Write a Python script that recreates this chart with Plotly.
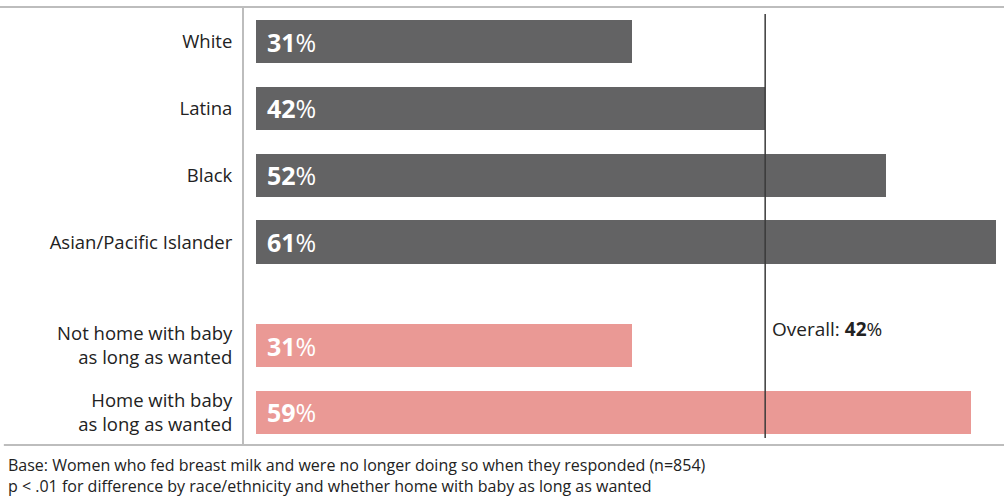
import plotly.graph_objects as go

# chart values
categories = ["White", "Latina", "Black", "Asian/Pacific Islander",
              "Not home with baby<br>as long as wanted",
              "Home with baby<br>as long as wanted"]
values = [31, 42, 52, 61, 31, 59]
groups = ["race", "race", "race", "race", "home", "home"]
overall = 42
footnotes = [
    "Base: Women who fed breast milk and were no longer doing so when they responded (n=854)",
    "p < .01 for difference by race/ethnicity and whether home with baby as long as wanted",
]

# layout helpers (slot positions; gap before second group)
positions = [0, 1, 2, 3, 4.55, 5.55]
group_colors = {"race": "#636364", "home": "#EA9995"}
FONT = "'Open Sans', 'Noto Sans', sans-serif"

fig = go.Figure()
fig.add_trace(go.Bar(
    x=values,
    y=positions,
    orientation="h",
    width=0.65,
    marker=dict(color=[group_colors[g] for g in groups], line=dict(width=0)),
    hoverinfo="skip",
))

# value labels inside bars
for v, p in zip(values, positions):
    fig.add_annotation(
        x=0, y=p, xref="x", yref="y",
        text=f"<b>{v}</b>%",
        showarrow=False, xanchor="left", yanchor="middle",
        xshift=9,
        font=dict(family=FONT, size=25, color="white"),
    )

# overall reference line
fig.add_shape(type="line", xref="x", yref="paper",
              x0=overall, x1=overall, y0=0.016, y1=0.984,
              line=dict(color="#3a3a3a", width=1.5))
fig.add_annotation(
    x=overall, y=4.3, xref="x", yref="y",
    text=f"Overall: <b>{overall}</b>%",
    showarrow=False, xanchor="left", yanchor="middle", xshift=5,
    font=dict(family=FONT, size=19, color="#222222"),
)

# frame lines
fig.add_shape(type="line", xref="paper", yref="paper",
              x0=-0.33, x1=1, y0=1, y1=1,
              line=dict(color="#bdbdbd", width=2))
fig.add_shape(type="line", xref="paper", yref="paper",
              x0=-0.316, x1=1, y0=0, y1=0,
              line=dict(color="#bdbdbd", width=2))

# footnotes
fig.add_annotation(
    x=0, y=0, xref="paper", yref="paper",
    text="<br>".join(footnotes),
    showarrow=False, xanchor="left", yanchor="top", align="left",
    xshift=-238, yshift=-7,
    font=dict(family=FONT, size=16, color="#222222"),
)

fig.update_layout(
    width=1004, height=500,
    margin=dict(l=244, r=0, t=7, b=55),
    plot_bgcolor="white", paper_bgcolor="white",
    showlegend=False,
    bargap=0,
    xaxis=dict(range=[-0.99, 61.7], visible=False, fixedrange=True),
    yaxis=dict(
        range=[6.04, -0.52],
        tickmode="array", tickvals=positions, ticktext=categories,
        showgrid=False, zeroline=False,
        showline=True, linecolor="#bdbdbd", linewidth=2,
        ticks="", ticklabelstandoff=6,
        tickfont=dict(family=FONT, size=18.5, color="#222222"),
        fixedrange=True,
    ),
)

fig.write_html("out.html", config={"displayModeBar": False},
               post_script="document.body.style.margin='0';")
